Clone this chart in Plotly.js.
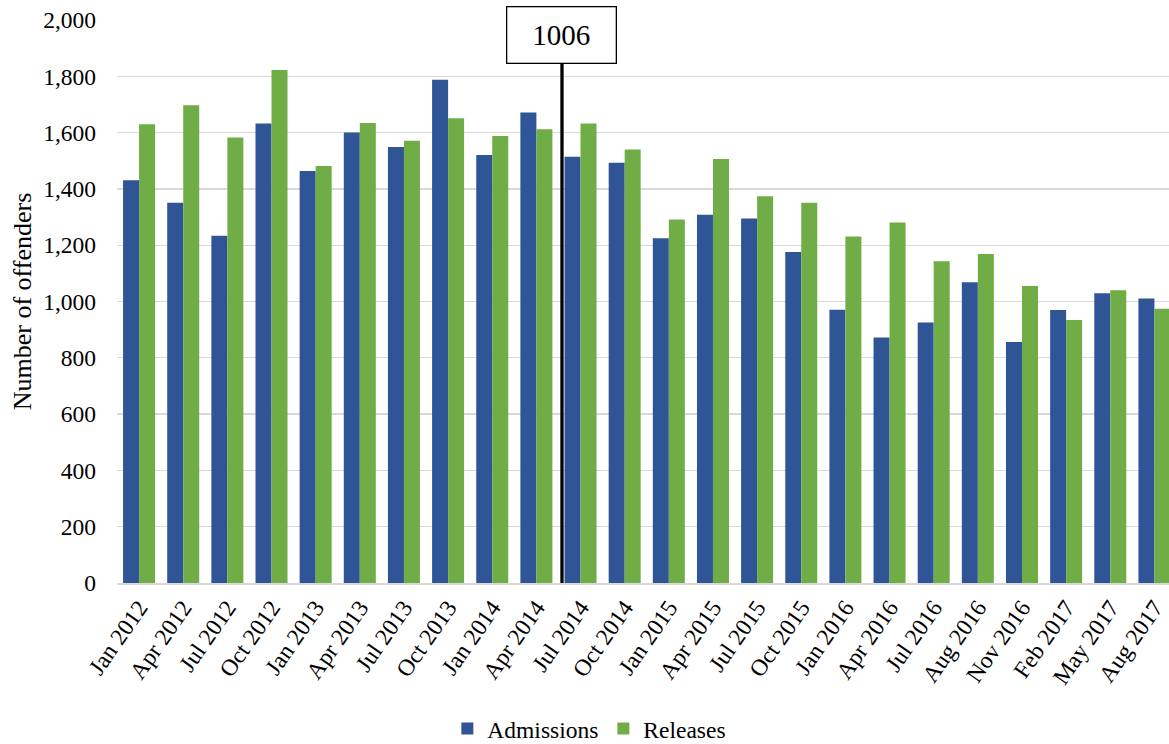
<!DOCTYPE html>
<html>
<head>
<meta charset="utf-8">
<script src="https://cdn.plot.ly/plotly-3.0.1.min.js"></script>
<style>
  html, body { margin: 0; padding: 0; background: #ffffff; overflow: hidden; }
  #chart { width: 1169px; height: 744px; }
</style>
</head>
<body>
<div id="chart"></div>
<script>
// Quarterly offender admissions and releases
const categories = ['Jan 2012','Apr 2012','Jul 2012','Oct 2012','Jan 2013','Apr 2013','Jul 2013','Oct 2013',
  'Jan 2014','Apr 2014','Jul 2014','Oct 2014','Jan 2015','Apr 2015','Jul 2015','Oct 2015',
  'Jan 2016','Apr 2016','Jul 2016','Aug 2016','Nov 2016','Feb 2017','May 2017','Aug 2017'];
const admissions = [1431,1351,1234,1632,1464,1600,1549,1788,1520,1671,1514,1493,
  1225,1308,1295,1176,971,872,925,1068,856,970,1029,1011];
const releases = [1630,1697,1583,1822,1481,1634,1571,1651,1588,1612,1632,1540,
  1291,1506,1374,1351,1231,1281,1143,1169,1055,934,1040,974];

// Marker line with its label box
const markerLabel = '1006';
const markerX = 9.58;      // category-axis position (just before Jul 2014)
const markerTop = 1844;    // top of the line, where the label box sits

const serif = 'Liberation Serif, Times New Roman, serif';

const traces = [
  { type: 'bar', name: 'Admissions', x: categories, y: admissions,
    marker: { color: '#2F5597' } },
  { type: 'bar', name: 'Releases', x: categories, y: releases,
    marker: { color: '#70AD47' } }
];

const layout = {
  width: 1169, height: 744,
  margin: { l: 117, r: 0, t: 20, b: 161, pad: 0, autoexpand: false },
  paper_bgcolor: '#ffffff', plot_bgcolor: '#ffffff',
  font: { family: serif, size: 23.5, color: '#000000' },
  barmode: 'group', bargap: 0.275, bargroupgap: 0,
  showlegend: true,
  legend: { orientation: 'h', x: 0.449, xanchor: 'center', y: -0.259, yanchor: 'middle',
    font: { family: serif, size: 23.5, color: '#000000' }, traceorder: 'normal' },
  xaxis: {
    type: 'category', range: [-0.5, 23.33],
    tickangle: -55, ticks: '', showgrid: false, zeroline: false,
    showline: true, linecolor: '#d9d9d9', linewidth: 1.5,
    tickfont: { family: serif, size: 23.5, color: '#000000' }
  },
  yaxis: {
    range: [0, 2000], dtick: 200, tickformat: ',d',
    showgrid: true, gridcolor: '#d9d9d9', gridwidth: 1.3,
    zeroline: false, showline: false, ticks: '',
    ticklabelstandoff: 20,
    tickfont: { family: serif, size: 23.5, color: '#000000' },
    title: { text: 'Number of offenders', standoff: 4,
      font: { family: serif, size: 26, color: '#000000' } }
  },
  shapes: [
    { type: 'line', xref: 'x', yref: 'y', x0: markerX, x1: markerX, y0: 0, y1: markerTop,
      line: { color: '#000000', width: 3.3 }, layer: 'above' }
  ],
  annotations: [
    { xref: 'x', yref: 'y', x: markerX, y: markerTop, xanchor: 'center', yanchor: 'bottom',
      text: markerLabel, showarrow: false,
      font: { family: serif, size: 29, color: '#000000' },
      bgcolor: '#ffffff', bordercolor: '#000000', borderwidth: 1.3, borderpad: 0,
      width: 108, height: 55 }
  ]
};

Plotly.newPlot('chart', traces, layout, { displayModeBar: false, staticPlot: true });
</script>
</body>
</html>
